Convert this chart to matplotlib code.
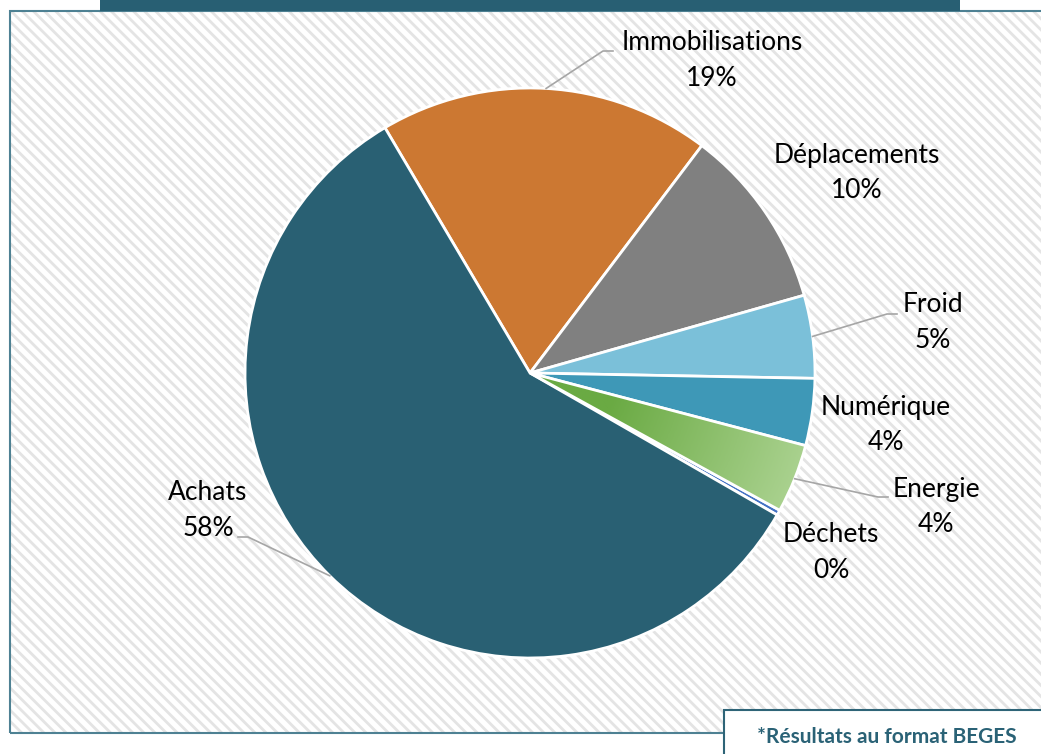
import numpy as np
import matplotlib.pyplot as plt
from matplotlib.patches import Rectangle
from matplotlib.colors import LinearSegmentedColormap

# data (clockwise from the top-left boundary)
labels = ['Immobilisations', 'Déplacements', 'Froid', 'Numérique', 'Energie', 'Déchets', 'Achats']
values = [18.8, 10.3, 4.7, 3.8, 3.9, 0.3, 58.2]
pct_labels = ['19%', '10%', '5%', '4%', '4%', '0%', '58%']
colors = ['#CC7832', '#808080', '#7BC0D9', '#3E98B7', '#7DB65A', '#4472C4', '#296073']

# layout (pixel coords, y from top)
W, H = 1041, 754
label_pos = [(712, 60), (857, 173), (933, 323), (886, 425), (936, 507), (831, 553), (208, 510)]
# leader lines: wedge index -> (end point near label, side of the elbow)
leaders = {0: ((613, 51), -1), 2: ((897, 314), -1), 4: ((888, 497), -1), 6: ((238, 537), 1)}

plt.rcParams['font.family'] = ['Lato', 'DejaVu Sans']
plt.rcParams['hatch.linewidth'] = 2.0

fig = plt.figure(figsize=(W / 100, H / 100), dpi=100)
ax = fig.add_axes([0, 0, 1, 1])

def Y(y):
    return H - y

# hatched background + frame
ax.add_patch(Rectangle((10, Y(733)), 1060, 722, facecolor='white', edgecolor='#E4E4E4',
                       hatch='\\\\\\', linewidth=0, zorder=0))
ax.add_patch(Rectangle((10, Y(733)), 1060, 722, facecolor='none', edgecolor='#4E8193',
                       linewidth=1.5, zorder=1))
ax.add_patch(Rectangle((100, Y(11)), 860, 20, facecolor='#285F73', edgecolor='none', zorder=2))

# pie
cx, cy, r = 530, Y(373), 285
wedges, _ = ax.pie(values, colors=colors, startangle=120.6, counterclock=False,
                   center=(cx, cy), radius=r, frame=True,
                   wedgeprops=dict(edgecolor='white', linewidth=2))
for w in wedges:
    w.set_zorder(3)

# radial gradient on Energie
g = wedges[4]
yy, xx = np.mgrid[-1:1:400j, -1:1:400j]
dist = np.sqrt(xx ** 2 + yy ** 2)
cmap = LinearSegmentedColormap.from_list('en', ['#6AAA43', '#A9D18E'])
im = ax.imshow(dist, extent=[cx - r, cx + r, cy - r, cy + r], cmap=cmap, vmin=0.3, vmax=1.0,
               origin='lower', zorder=3.5)
im.set_clip_path(g)
g.set_facecolor('none')
g.set_zorder(4)

# labels
for lab, pct, (x, y) in zip(labels, pct_labels, label_pos):
    ax.text(x, Y(y), lab + '\n' + pct, ha='center', va='center', fontsize=19,
            linespacing=1.55, color='black', zorder=6)

# leader lines
for i, ((ex, ey), side) in leaders.items():
    w = wedges[i]
    mid = np.deg2rad((w.theta1 + w.theta2) / 2)
    sx, sy = cx + r * np.cos(mid), cy + r * np.sin(mid)
    ax.plot([sx, ex + side * 10, ex], [sy, Y(ey), Y(ey)], color='#A6A6A6', lw=1.2, zorder=5)

# note box
ax.add_patch(Rectangle((724, Y(754) - 10), 340, 54, facecolor='white', edgecolor='#2E6477',
                       linewidth=1.5, zorder=7))
ax.text(887, Y(737), '*Résultats au format BEGES', ha='center', va='center', fontsize=15,
        fontweight='bold', color='#2A6276', zorder=8)

ax.set_xlim(0, W)
ax.set_ylim(0, H)
ax.axis('off')

fig.savefig('out.png', dpi=100)
